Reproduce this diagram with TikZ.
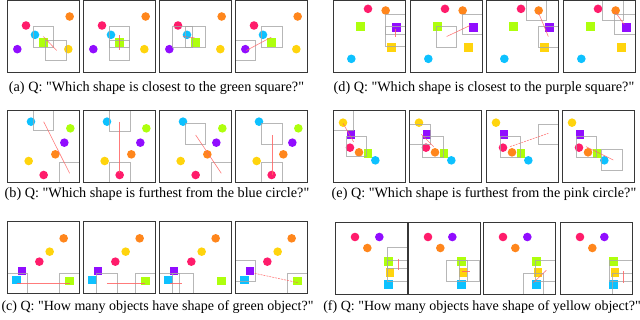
\documentclass[tikz,border=0pt]{standalone}
\usepackage{fontspec}
\setmainfont{Liberation Serif}[Ligatures=TeXOff]
\definecolor{orangeC}{RGB}{255,128,16}
\definecolor{pinkC}{RGB}{255,16,100}
\definecolor{cyanC}{RGB}{0,190,255}
\definecolor{greenC}{RGB}{170,255,0}
\definecolor{purpleC}{RGB}{140,0,255}
\definecolor{yellowC}{RGB}{255,210,0}
\definecolor{attgray}{RGB}{165,165,165}
\definecolor{attred}{RGB}{255,100,100}
\definecolor{framec}{RGB}{55,55,55}
\tikzset{
  dot/.style={circle,inner sep=0pt,minimum size=8.6pt,draw=none,fill opacity=0.95},
  sq/.style={rectangle,inner sep=0pt,minimum size=8.8pt,draw=none,fill opacity=0.95},
  attbox/.style={draw=attgray,line width=0.6pt,draw opacity=0.8},
  attline/.style={draw=attred,line width=0.6pt,draw opacity=0.85},
  frame/.style={draw=framec,line width=1pt},
  captext/.style={font=\fontsize{14.2}{16}\selectfont,inner sep=0pt},
  captextb/.style={font=\fontsize{14}{16}\selectfont,inner sep=0pt}
}
\newcommand\shpC[4]{\node[dot,fill=#2] (#1) at (#3,#4) {};}
\newcommand\shpS[4]{\node[sq,fill=#2] (#1) at (#3,#4) {};}
\newcommand\attR[4]{\draw[attbox] (#1,#2) rectangle (#3,#4);}
\newcommand\attL[4]{\draw[attline] (#1,#2) coordinate (ls) -- (#3,#4) coordinate (le);}
\newcommand\attD[4]{\draw[attline,dash pattern=on 2pt off 1pt] (#1,#2) coordinate (ls) -- (#3,#4) coordinate (le);}
\newcommand\boxat[3]{%
\begin{scope}[shift={(#1pt,-#2pt)},x=0.3333pt,y=-0.3333pt]
\begin{scope}
\clip (0,0) rectangle (217.5,217.5);
#3
\end{scope}
\draw[frame] (0,0) rectangle (217.5,217.5);
\end{scope}}
% scenes
\newcommand\sceneA{\shpC{o}{orangeC}{188}{48}\shpC{p}{pinkC}{57}{75}\shpC{c}{cyanC}{84}{103}\shpS{g}{greenC}{110}{126}\shpC{v}{purpleC}{31}{146}\shpC{y}{yellowC}{184}{146}}
\newcommand\sceneD{\shpC{p}{pinkC}{105}{25}\shpC{o}{orangeC}{158}{30}\shpS{g}{greenC}{82}{78}\shpS{v}{purpleC}{190}{82}\shpS{y}{yellowC}{175}{140}\shpC{c}{cyanC}{55}{175}}
\newcommand\sceneB{\shpC{c}{cyanC}{72}{35}\shpC{g}{greenC}{190}{55}\shpC{v}{purpleC}{172}{98}\shpC{o}{orangeC}{145}{133}\shpC{y}{yellowC}{65}{153}\shpC{p}{pinkC}{110}{195}}
\newcommand\sceneE{\shpC{y}{yellowC}{30}{38}\shpS{v}{purpleC}{54}{73}\shpC{p}{pinkC}{51}{113}\shpC{o}{orangeC}{78}{127}\shpS{g}{greenC}{105}{131}\shpC{c}{cyanC}{127}{151}}
\newcommand\sceneC{\shpC{o}{orangeC}{170}{52}\shpC{y}{yellowC}{128}{92}\shpC{p}{pinkC}{97}{122}\shpS{v}{purpleC}{45}{150}\shpS{c}{cyanC}{28}{177}\shpS{g}{greenC}{188}{180}}
\newcommand\sceneF{\shpC{p}{pinkC}{60}{45}\shpC{v}{purpleC}{133}{45}\shpC{o}{orangeC}{97}{78}\shpS{g}{greenC}{160}{118}\shpS{y}{yellowC}{165}{151}\shpS{c}{cyanC}{160}{188}}
\begin{document}
\begin{tikzpicture}
\useasboundingbox[fill=white] (0pt,0pt) rectangle (640pt,-319pt);
% (a)
\boxat{7}{0.5}{\sceneA\attR{78}{78}{140}{140}\attR{116}{118}{178}{178}\attL{109}{108}{149}{150}}
\boxat{83}{0.5}{\sceneA\attR{80}{78}{140}{140}\attR{80}{118}{140}{178}\attL{110}{105}{110}{148}}
\boxat{159}{0.5}{\sceneA\attR{40}{78}{100}{140}\attR{78}{78}{140}{140}\attL{72}{108}{107}{112}}
\boxat{235}{0.5}{\sceneA\attR{80}{78}{142}{140}\attR{0}{118}{62}{178}\attL{34}{150}{109}{110}}
\node[captext] (capa) at (156.5pt,-88pt) {(a) Q: "Which shape is closest to the green square?"};
% (d)
\boxat{333}{0.5}{\sceneD\attR{158}{40}{218}{100}\attR{158}{78}{218}{138}\attL{188}{85}{188}{110}}
\boxat{410}{0.5}{\sceneD\attR{78}{78}{140}{140}\attR{158}{40}{218}{100}\attL{110}{108}{180}{75}}
\boxat{486}{0.5}{\sceneD\attR{120}{0}{180}{60}\attR{157}{78}{218}{140}\attL{157}{35}{187}{108}}
\boxat{563}{0.5}{\sceneD\attR{117}{0}{180}{60}\attR{155}{40}{217}{100}\attL{157}{35}{184}{72}}
\node[captext] (capd) at (484pt,-88pt) {(d) Q: "Which shape is closest to the purple square?"};
% (b)
\boxat{7}{110}{\sceneB\attR{80}{0}{140}{60}\attR{158}{157}{218}{218}\attL{110}{35}{188}{190}}
\boxat{83}{110}{\sceneB\attR{80}{0}{142}{63}\attR{80}{157}{142}{218}\attL{110}{35}{110}{190}}
\boxat{159}{110}{\sceneB\attR{78}{40}{140}{103}\attR{157}{157}{218}{218}\attL{110}{75}{187}{190}}
\boxat{235}{110}{\sceneB\attR{80}{40}{142}{103}\attR{80}{157}{142}{218}\attL{112}{75}{112}{195}}
\node[captext] (capb) at (157pt,-194pt) {(b) Q: "Which shape is furthest from the blue circle?"};
% (e)
\boxat{333}{110}{\sceneE\attR{0}{0}{60}{62}\attR{40}{78}{100}{140}\attL{30}{40}{62}{96}}
\boxat{409}{110}{\sceneE\attR{2}{42}{64}{103}\attR{40}{80}{102}{143}\attL{37}{73}{74}{110}}
\boxat{486}{110}{\sceneE\attR{42}{80}{102}{143}\attR{157}{42}{218}{103}\attD{72}{110}{187}{70}}
\boxat{562}{110}{\sceneE\attR{42}{80}{104}{143}\attR{119}{118}{181}{180}\attL{72}{110}{154}{150}}
\node[captext] (cape) at (484pt,-194pt) {(e) Q: "Which shape is furthest from the pink circle?"};
% (c)
\boxat{7}{221}{\sceneC\attR{0}{157}{62}{220}\attR{158}{157}{218}{220}\attL{30}{187}{188}{187}}
\boxat{83}{221}{\sceneC\attR{40}{157}{102}{220}\attR{158}{157}{218}{220}\attL{72}{187}{187}{187}}
\boxat{159}{221}{\sceneC\attR{0}{157}{62}{220}\attR{40}{157}{102}{220}\attL{32}{187}{70}{187}}
\boxat{235}{221}{\sceneC\attR{0}{117}{62}{180}\attR{156}{157}{218}{220}\attD{59}{157}{189}{185}}
\node[captextb] (capc) at (157.5pt,-307pt) {(c) Q: "How many objects have shape of green object?"};
% (f)
\boxat{335}{222}{\sceneF\attR{158}{77}{220}{140}\attR{158}{115}{220}{178}\attL{190}{110}{190}{145}}
\boxat{408}{222}{\sceneF\attR{115}{115}{177}{178}\attR{153}{115}{215}{178}\attL{163}{148}{185}{148}}
\boxat{483}{222}{\sceneF\attR{120}{153}{182}{218}\attR{158}{115}{220}{178}\attL{150}{183}{190}{145}}
\boxat{560}{222}{\sceneF\attR{148}{115}{220}{178}\attR{158}{153}{220}{218}\attL{190}{147}{190}{183}}
\node[captextb] (capf) at (482pt,-307pt) {(f) Q: "How many objects have shape of yellow object?"};
\end{tikzpicture}
\end{document}
